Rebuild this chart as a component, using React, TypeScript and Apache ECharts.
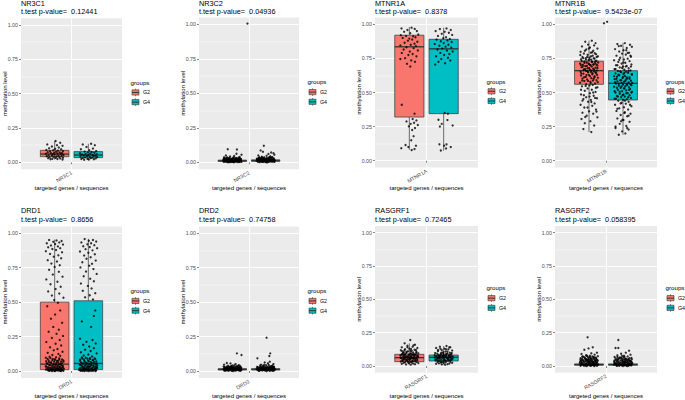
import React, { useEffect, useRef } from 'react';
import * as echarts from 'echarts';

// ---------- data ----------
const GENES = ['NR3C1', 'NR3C2', 'MTNR1A', 'MTNR1B', 'DRD1', 'DRD2', 'RASGRF1', 'RASGRF2'];
const P_VALUES = ['0.12441', '0.04936', '0.8378', '9.5423e-07', '0.8656', '0.74758', '0.72465', '0.058395'];
const GROUPS = ['G2', 'G4'];
const Y_TICKS = [0, 0.25, 0.5, 0.75, 1];

// box stats: [lower whisker, Q1, median, Q3, upper whisker]
const BOX_G2 = [
  [0.02, 0.041, 0.06, 0.087, 0.155],
  [0, 0.006, 0.011, 0.016, 0.03],
  [0.08, 0.32, 0.835, 0.92, 0.98],
  [0.21, 0.56, 0.66, 0.73, 0.88],
  [0, 0.01, 0.05, 0.5, 0.955],
  [0, 0.007, 0.012, 0.017, 0.035],
  [0.01, 0.0325, 0.0625, 0.0875, 0.17],
  [0, 0.006, 0.01, 0.016, 0.03],
];
const BOX_G4 = [
  [0.017, 0.034, 0.053, 0.078, 0.135],
  [0, 0.007, 0.012, 0.018, 0.034],
  [0.073, 0.345, 0.82, 0.89, 0.975],
  [0.19, 0.445, 0.567, 0.66, 0.865],
  [0, 0.01, 0.055, 0.51, 0.96],
  [0, 0.007, 0.012, 0.017, 0.035],
  [0.01, 0.0375, 0.065, 0.0825, 0.15],
  [0, 0.006, 0.01, 0.016, 0.03],
];

// jittered points: [jitter offset (-1..1), methylation level]
const NR3C1_G2 = [[0.1,0.155],[0.6,0.142],[-0.8,0.13],[0.25,0.125],[0.85,0.12],[-0.3,0.115],[0.45,0.108],[-0.6,0.102],[0.05,0.098],[0.7,0.095],[-0.9,0.09],[-0.15,0.088],[0.35,0.085],[0.9,0.082],[-0.5,0.08],[0.15,0.077],[-0.75,0.074],[0.55,0.072],[-0.05,0.07],[0.8,0.068],[-0.4,0.066],[0.3,0.064],[-0.95,0.062],[0.65,0.06],[-0.2,0.058],[0.0,0.056],[0.95,0.054],[-0.65,0.052],[0.4,0.05],[-0.3,0.048],[0.75,0.046],[-0.85,0.044],[0.2,0.042],[-0.1,0.04],[0.5,0.038],[-0.55,0.036],[0.9,0.034],[0.1,0.032],[-0.7,0.03],[0.6,0.028],[-0.25,0.026],[0.3,0.024],[-0.45,0.022],[0.85,0.02]];
const NR3C1_G4 = [[0.3,0.135],[-0.6,0.13],[0.7,0.125],[-0.2,0.112],[0.5,0.1],[-0.8,0.095],[0.1,0.088],[0.85,0.082],[-0.4,0.078],[0.35,0.075],[-0.05,0.072],[0.65,0.069],[-0.9,0.066],[0.2,0.063],[-0.3,0.06],[0.9,0.058],[-0.7,0.056],[0.45,0.054],[0.0,0.052],[-0.5,0.05],[0.75,0.048],[-0.15,0.046],[0.55,0.044],[-0.85,0.042],[0.15,0.04],[0.95,0.038],[-0.35,0.036],[0.4,0.034],[-0.6,0.032],[0.25,0.03],[0.8,0.028],[-0.1,0.026],[-0.75,0.024],[0.6,0.022],[0.05,0.02],[-0.45,0.018]];
const NR3C2_G2 = [[1.65,1.005],[-0.5,0.095],[0.5,0.093],[0.45,0.062],[1.0,0.055],[-0.7,0.05],[0.2,0.046],[-0.25,0.042],[0.8,0.039],[-0.9,0.036],[-0.93,0.028],[-0.81,0.011],[-0.68,0.021],[-0.62,0.004],[-0.47,0.017],[-0.41,0.027],[-0.33,0.009],[-0.18,0.021],[-0.12,0.003],[0.02,0.014],[0.09,0.025],[0.21,0.007],[0.28,0.019],[0.43,0.031],[0.52,0.011],[0.61,0.023],[0.73,0.002],[0.79,0.016],[0.88,0.026],[0.97,0.009],[-0.99,0.017],[-0.86,0.024],[-0.74,0.005],[-0.57,0.013],[-0.52,0.033],[-0.44,0.006],[-0.36,0.02],[-0.27,0.001],[-0.14,0.012],[-0.06,0.023],[0.04,0.006],[0.16,0.017],[0.24,0.029],[0.37,0.008],[0.47,0.022],[0.56,0.002],[0.66,0.013],[0.76,0.024],[0.84,0.007],[0.94,0.019],[-0.88,0.004],[-0.63,0.012],[-0.29,0.015],[0.01,0.004],[0.32,0.012],[0.63,0.017],[0.91,0.013],[-0.46,0.0],[0.19,0.001],[0.71,0.009]];
const NR3C2_G2_DENSE = [[-0.97,0.006],[-0.9,0.021],[-0.83,0.014],[-0.77,0.029],[-0.7,0.008],[-0.65,0.018],[-0.58,0.025],[-0.51,0.003],[-0.48,0.012],[-0.39,0.02],[-0.34,0.031],[-0.28,0.011],[-0.22,0.005],[-0.16,0.027],[-0.1,0.016],[-0.03,0.009],[0.0,0.022],[0.06,0.03],[0.11,0.012],[0.14,0.002],[0.2,0.024],[0.26,0.01],[0.3,0.016],[0.36,0.026],[0.4,0.004],[0.44,0.014],[0.5,0.028],[0.54,0.018],[0.59,0.007],[0.64,0.021],[0.7,0.012],[0.74,0.03],[0.8,0.004],[0.83,0.02],[0.89,0.011],[0.93,0.024],[0.99,0.003],[-0.6,0.034],[0.13,0.036],[0.68,0.033]];
const NR3C2_G4 = [[-0.2,0.12],[-0.55,0.086],[-0.3,0.076],[0.6,0.071],[0.85,0.066],[0.3,0.061],[0.95,0.055],[-0.8,0.05],[0.1,0.047],[0.5,0.043],[-0.42,0.04],[0.72,0.038],[-0.96,0.025],[-0.84,0.008],[-0.71,0.019],[-0.64,0.031],[-0.49,0.003],[-0.38,0.015],[-0.31,0.027],[-0.17,0.006],[-0.09,0.021],[0.03,0.011],[0.12,0.03],[0.23,0.002],[0.27,0.018],[0.41,0.026],[0.49,0.009],[0.58,0.02],[0.69,0.004],[0.77,0.015],[0.87,0.029],[0.98,0.012],[-0.91,0.016],[-0.77,0.027],[-0.59,0.01],[-0.53,0.022],[-0.43,0.034],[-0.26,0.012],[-0.13,0.017],[-0.02,0.003],[0.07,0.024],[0.18,0.013],[0.34,0.007],[0.39,0.021],[0.54,0.031],[0.64,0.014],[0.81,0.022],[0.92,0.005],[-0.68,0.001],[-0.21,0.025],[0.14,0.0],[0.46,0.016],[0.74,0.01],[-0.35,0.005],[0.29,0.033],[0.86,0.018]];
const NR3C2_G4_DENSE = [[-0.98,0.011],[-0.92,0.026],[-0.85,0.004],[-0.79,0.017],[-0.73,0.031],[-0.66,0.007],[-0.6,0.022],[-0.55,0.013],[-0.47,0.028],[-0.41,0.009],[-0.36,0.019],[-0.29,0.002],[-0.24,0.032],[-0.19,0.014],[-0.11,0.024],[-0.05,0.008],[0.02,0.018],[0.08,0.001],[0.13,0.027],[0.17,0.011],[0.25,0.02],[0.31,0.004],[0.36,0.03],[0.42,0.015],[0.47,0.006],[0.53,0.024],[0.57,0.012],[0.62,0.034],[0.67,0.019],[0.72,0.007],[0.79,0.026],[0.84,0.013],[0.9,0.022],[0.95,0.003],[0.97,0.017],[-0.15,0.036],[0.44,0.038],[-0.7,0.036]];
const MTNR1A_G2 = [[-0.83,0.97],[0.24,0.975],[0.57,0.966],[-0.2,0.958],[0.8,0.95],[-0.55,0.945],[0.1,0.935],[0.95,0.925],[-0.9,0.92],[-0.35,0.915],[0.4,0.912],[0.65,0.905],[-0.7,0.9],[0.0,0.895],[0.3,0.888],[-0.15,0.88],[0.85,0.872],[-0.5,0.865],[0.55,0.858],[0.15,0.85],[-0.95,0.845],[0.7,0.84],[-0.3,0.832],[0.45,0.825],[-0.6,0.815],[0.9,0.808],[0.05,0.8],[-0.8,0.79],[0.35,0.782],[-0.1,0.775],[0.75,0.765],[-0.45,0.752],[-0.95,0.745],[0.2,0.735],[0.6,0.725],[-0.25,0.71],[0.1,0.69],[-0.8,0.41],[0.55,0.345],[0.35,0.305],[0.75,0.295],[-0.3,0.288],[0.5,0.278],[0.15,0.27],[0.9,0.262],[-0.05,0.252],[0.6,0.24],[0.3,0.225],[0.45,0.18],[0.2,0.15],[-0.4,0.115],[0.7,0.11],[-0.1,0.1],[-0.85,0.092],[0.55,0.085],[0.25,0.078]];
const MTNR1A_G4 = [[0.3,0.97],[-0.4,0.965],[0.75,0.958],[-0.85,0.95],[0.1,0.945],[0.55,0.938],[-0.2,0.93],[0.9,0.922],[-0.6,0.915],[0.25,0.905],[-0.05,0.898],[0.65,0.892],[-0.75,0.888],[0.4,0.882],[-0.3,0.876],[0.85,0.87],[0.0,0.862],[-0.95,0.856],[0.5,0.85],[-0.45,0.843],[0.2,0.836],[0.8,0.83],[-0.15,0.822],[-0.65,0.815],[0.35,0.808],[0.95,0.8],[-0.35,0.79],[0.6,0.782],[0.05,0.775],[-0.8,0.765],[0.45,0.755],[-0.25,0.745],[0.7,0.735],[-0.55,0.725],[0.15,0.715],[-0.9,0.705],[0.1,0.35],[0.45,0.345],[-0.55,0.3],[0.4,0.298],[-0.2,0.27],[-0.4,0.25],[0.95,0.258],[-0.45,0.12],[0.3,0.12],[0.05,0.11],[0.75,0.1],[0.25,0.09],[-0.3,0.075]];
const MTNR1B_G2 = [[1.6,1.007],[0.3,0.88],[-0.4,0.872],[0.7,0.862],[-0.1,0.851],[0.55,0.845],[-0.75,0.838],[0.1,0.83],[0.9,0.822],[-0.3,0.815],[0.45,0.806],[-0.9,0.798],[0.2,0.792],[-0.55,0.786],[0.75,0.781],[-0.15,0.776],[0.4,0.77],[0.95,0.765],[-0.7,0.76],[0.05,0.756],[-0.35,0.752],[0.6,0.748],[-0.85,0.744],[0.25,0.74],[-0.05,0.736],[0.8,0.732],[-0.5,0.728],[0.35,0.724],[-0.25,0.72],[0.65,0.716],[-0.95,0.712],[0.0,0.709],[0.5,0.706],[-0.65,0.703],[0.15,0.701],[0.9,0.698],[-0.4,0.694],[0.3,0.69],[-0.8,0.686],[0.7,0.682],[-0.15,0.678],[0.45,0.674],[-0.55,0.67],[0.1,0.666],[0.85,0.662],[-0.3,0.658],[0.55,0.655],[-0.9,0.652],[0.2,0.651],[-0.1,0.647],[0.75,0.643],[-0.6,0.638],[0.35,0.634],[0.0,0.629],[-0.85,0.624],[0.6,0.619],[-0.35,0.614],[0.95,0.609],[0.25,0.605],[-0.7,0.602],[0.5,0.6],[-0.2,0.596],[0.8,0.59],[-0.5,0.584],[0.15,0.578],[-0.95,0.572],[0.65,0.566],[-0.3,0.561],[0.4,0.556],[0.05,0.552],[-0.75,0.545],[0.9,0.538],[-0.15,0.53],[0.3,0.52],[-0.45,0.512],[0.7,0.504],[0.1,0.495],[-0.85,0.486],[0.5,0.476],[-0.3,0.466],[0.85,0.458],[-0.6,0.452],[0.2,0.445],[-0.1,0.432],[0.6,0.42],[-0.9,0.41],[0.35,0.402],[-0.5,0.39],[0.75,0.375],[0.0,0.362],[-0.7,0.352],[0.45,0.345],[-0.25,0.33],[0.9,0.318],[-0.8,0.305],[0.15,0.29],[-0.45,0.275],[0.55,0.258],[-0.6,0.232],[0.25,0.21]];
const MTNR1B_G2_DENSE = [[-0.93,0.775],[-0.87,0.702],[-0.82,0.64],[-0.78,0.731],[-0.72,0.588],[-0.67,0.69],[-0.62,0.752],[-0.58,0.663],[-0.53,0.612],[-0.49,0.718],[-0.44,0.806],[-0.4,0.672],[-0.36,0.548],[-0.32,0.741],[-0.27,0.628],[-0.23,0.695],[-0.19,0.76],[-0.14,0.655],[-0.1,0.585],[-0.06,0.712],[-0.02,0.822],[0.02,0.679],[0.06,0.743],[0.1,0.62],[0.14,0.7],[0.18,0.568],[0.22,0.765],[0.26,0.66],[0.3,0.725],[0.34,0.795],[0.38,0.642],[0.42,0.588],[0.46,0.705],[0.5,0.752],[0.54,0.669],[0.58,0.612],[0.62,0.788],[0.66,0.729],[0.7,0.648],[0.74,0.535],[0.78,0.705],[0.82,0.76],[0.86,0.63],[0.9,0.68],[0.94,0.575],[0.98,0.72],[-0.55,0.48],[0.25,0.43],[-0.15,0.39],[0.65,0.46],[-0.85,0.52],[0.45,0.5],[0.05,0.47],[-0.4,0.32],[0.8,0.36],[-0.7,0.44]];
const MTNR1B_G4 = [[-1.7,1.018],[0.2,0.862],[-0.6,0.855],[0.75,0.85],[-0.2,0.842],[0.95,0.835],[0.4,0.826],[-0.85,0.818],[0.05,0.81],[-0.4,0.8],[0.65,0.792],[-0.1,0.785],[0.3,0.778],[-0.7,0.77],[0.85,0.762],[-0.3,0.755],[0.5,0.748],[0.1,0.742],[-0.95,0.736],[0.7,0.73],[-0.5,0.724],[0.25,0.718],[-0.15,0.712],[0.9,0.706],[-0.75,0.7],[0.4,0.695],[0.0,0.69],[-0.35,0.684],[0.6,0.678],[-0.9,0.672],[0.15,0.667],[0.8,0.662],[-0.55,0.658],[0.35,0.654],[-0.2,0.649],[0.55,0.645],[-0.8,0.64],[0.05,0.636],[0.95,0.631],[-0.4,0.626],[0.2,0.621],[-0.65,0.616],[0.7,0.611],[-0.05,0.606],[0.45,0.602],[-0.9,0.598],[0.3,0.594],[-0.3,0.59],[0.85,0.586],[-0.6,0.582],[0.1,0.578],[0.6,0.574],[-0.15,0.57],[-0.75,0.566],[0.4,0.562],[0.0,0.558],[0.9,0.554],[-0.45,0.55],[0.25,0.546],[-0.95,0.542],[0.65,0.538],[-0.25,0.534],[0.15,0.53],[0.75,0.525],[-0.55,0.52],[0.35,0.515],[-0.1,0.51],[0.95,0.505],[-0.8,0.5],[0.5,0.495],[-0.35,0.49],[0.05,0.485],[0.7,0.48],[-0.65,0.475],[0.2,0.47],[-0.2,0.465],[0.85,0.46],[-0.9,0.455],[0.4,0.45],[0.0,0.446],[-0.5,0.44],[0.6,0.432],[-0.15,0.425],[0.3,0.418],[-0.85,0.41],[0.9,0.4],[0.1,0.392],[-0.4,0.384],[0.55,0.375],[-0.7,0.365],[0.2,0.355],[0.8,0.345],[-0.25,0.335],[0.45,0.325],[-0.6,0.31],[0.05,0.298],[0.7,0.285],[-0.35,0.27],[0.35,0.255],[-0.8,0.24],[0.6,0.228],[-0.1,0.215],[0.25,0.2],[-0.45,0.19]];
const MTNR1B_G4_DENSE = [[-0.95,0.62],[-0.9,0.51],[-0.85,0.575],[-0.8,0.672],[-0.75,0.455],[-0.7,0.6],[-0.65,0.535],[-0.6,0.7],[-0.55,0.47],[-0.5,0.63],[-0.45,0.565],[-0.4,0.74],[-0.35,0.505],[-0.3,0.655],[-0.25,0.42],[-0.2,0.59],[-0.15,0.545],[-0.1,0.68],[-0.05,0.48],[0.0,0.615],[0.05,0.72],[0.1,0.53],[0.15,0.645],[0.2,0.44],[0.25,0.585],[0.3,0.69],[0.35,0.495],[0.4,0.61],[0.45,0.555],[0.5,0.79],[0.55,0.465],[0.6,0.66],[0.65,0.52],[0.7,0.6],[0.75,0.41],[0.8,0.56],[0.85,0.69],[0.9,0.5],[0.95,0.635],[0.98,0.57],[-0.6,0.38],[0.15,0.35],[-0.2,0.29],[0.6,0.33],[-0.8,0.25],[0.35,0.81],[-0.45,0.84],[0.8,0.77],[-0.05,0.3],[0.45,0.24]];
const DRD1_G2 = [[-0.6,0.952],[0.2,0.948],[0.75,0.944],[-0.15,0.938],[0.5,0.934],[-0.85,0.928],[0.05,0.922],[0.9,0.918],[-0.4,0.912],[0.35,0.905],[-0.7,0.898],[0.6,0.892],[-0.25,0.886],[0.15,0.878],[-0.95,0.87],[0.8,0.862],[-0.5,0.85],[0.4,0.84],[-0.1,0.83],[0.7,0.818],[-0.75,0.805],[0.25,0.795],[-0.35,0.78],[0.55,0.768],[0.0,0.755],[-0.6,0.735],[0.45,0.72],[-0.2,0.7],[0.85,0.685],[-0.9,0.665],[0.3,0.648],[-0.45,0.63],[0.65,0.612],[0.1,0.595],[-0.7,0.578],[0.5,0.562],[-0.3,0.548],[0.95,0.532],[-0.05,0.515],[0.35,0.495],[-0.8,0.47],[0.6,0.44],[0.05,0.41],[-0.4,0.38],[0.8,0.35],[-0.15,0.32],[0.45,0.3],[-0.65,0.285],[0.2,0.27],[0.9,0.255],[-0.3,0.24],[0.55,0.225],[-0.9,0.21],[0.1,0.198],[0.7,0.185],[-0.5,0.172],[0.3,0.16],[-0.1,0.15],[0.85,0.14],[-0.75,0.132],[0.4,0.124],[-0.25,0.116],[0.6,0.11],[-0.55,0.104],[0.15,0.1],[-0.95,0.096],[0.5,0.092],[-0.2,0.088],[0.8,0.084],[0.0,0.08],[-0.65,0.076],[0.35,0.072],[0.95,0.068],[-0.4,0.064],[0.2,0.06],[-0.85,0.057],[0.65,0.054],[-0.1,0.051],[0.45,0.048],[-0.6,0.045],[0.1,0.042],[0.75,0.039],[-0.3,0.036],[0.3,0.033],[-0.9,0.031],[0.55,0.029],[-0.15,0.027],[0.9,0.025],[-0.5,0.023],[0.05,0.021],[0.4,0.019],[-0.75,0.017],[0.7,0.015],[-0.25,0.013],[0.25,0.011],[-0.95,0.01],[0.6,0.009],[-0.4,0.008],[0.15,0.007],[0.85,0.006],[-0.7,0.005],[0.35,0.004],[-0.05,0.003],[0.5,0.002],[-0.55,0.001],[0.95,0.001],[0.0,0.0],[-0.3,0.0],[0.7,0.0]];
const DRD1_G2_DENSE = [[-0.97,0.034],[-0.92,0.071],[-0.87,0.012],[-0.81,0.052],[-0.76,0.088],[-0.71,0.027],[-0.66,0.004],[-0.61,0.063],[-0.56,0.018],[-0.51,0.041],[-0.46,0.094],[-0.41,0.009],[-0.36,0.056],[-0.31,0.022],[-0.26,0.078],[-0.21,0.003],[-0.16,0.045],[-0.11,0.015],[-0.06,0.067],[-0.01,0.032],[0.04,0.086],[0.09,0.011],[0.14,0.05],[0.19,0.024],[0.24,0.074],[0.29,0.006],[0.34,0.039],[0.39,0.061],[0.44,0.014],[0.49,0.082],[0.54,0.028],[0.59,0.047],[0.64,0.002],[0.69,0.069],[0.74,0.021],[0.79,0.055],[0.84,0.009],[0.89,0.036],[0.94,0.077],[0.99,0.016],[-0.5,0.005],[0.1,0.002],[0.6,0.012],[-0.2,0.01],[0.3,0.018]];
const DRD1_G4 = [[-0.4,0.958],[0.5,0.952],[0.05,0.946],[0.85,0.94],[-0.75,0.934],[0.3,0.928],[-0.1,0.92],[0.65,0.914],[-0.55,0.906],[0.15,0.9],[0.95,0.892],[-0.3,0.885],[0.45,0.876],[-0.9,0.868],[0.0,0.858],[0.7,0.848],[-0.45,0.838],[0.25,0.826],[-0.2,0.815],[0.8,0.802],[-0.65,0.79],[0.4,0.778],[0.1,0.765],[-0.85,0.752],[0.55,0.74],[-0.25,0.722],[0.9,0.705],[-0.5,0.688],[0.2,0.67],[0.6,0.652],[-0.8,0.635],[-0.05,0.618],[0.35,0.6],[-0.6,0.582],[0.75,0.565],[0.15,0.55],[-0.35,0.535],[0.5,0.52],[0.75,0.44],[0.6,0.4],[-0.7,0.36],[0.3,0.32],[-0.9,0.235],[0.45,0.225],[-0.2,0.212],[0.8,0.2],[-0.55,0.19],[0.1,0.178],[0.6,0.166],[-0.35,0.155],[0.25,0.145],[-0.8,0.136],[0.9,0.128],[0.0,0.12],[-0.5,0.112],[0.4,0.106],[-0.7,0.098],[0.2,0.094],[-0.1,0.09],[0.75,0.086],[-0.45,0.082],[0.5,0.078],[-0.9,0.074],[0.05,0.07],[0.65,0.066],[-0.3,0.062],[0.35,0.058],[-0.6,0.055],[0.9,0.052],[-0.15,0.049],[0.25,0.046],[-0.8,0.043],[0.55,0.04],[0.0,0.037],[-0.4,0.034],[0.8,0.031],[0.15,0.029],[-0.65,0.027],[0.45,0.025],[-0.2,0.023],[0.95,0.021],[-0.95,0.019],[0.3,0.017],[-0.5,0.015],[0.7,0.013],[-0.05,0.011],[0.4,0.01],[-0.75,0.009],[0.6,0.008],[-0.3,0.007],[0.1,0.006],[0.85,0.005],[-0.55,0.004],[0.2,0.003],[-0.15,0.002],[0.5,0.001],[-0.85,0.001],[0.75,0.0],[-0.4,0.0],[0.05,0.0]];
const DRD1_G4_DENSE = [[-0.99,0.008],[-0.93,0.046],[-0.88,0.083],[-0.83,0.021],[-0.78,0.062],[-0.73,0.003],[-0.68,0.037],[-0.63,0.09],[-0.58,0.014],[-0.53,0.053],[-0.48,0.026],[-0.43,0.072],[-0.38,0.006],[-0.33,0.043],[-0.28,0.097],[-0.23,0.017],[-0.18,0.059],[-0.13,0.031],[-0.08,0.004],[-0.03,0.076],[0.02,0.024],[0.07,0.051],[0.12,0.012],[0.17,0.088],[0.22,0.035],[0.27,0.065],[0.32,0.002],[0.37,0.044],[0.42,0.019],[0.47,0.08],[0.52,0.009],[0.57,0.057],[0.62,0.03],[0.67,0.092],[0.72,0.015],[0.77,0.048],[0.82,0.005],[0.87,0.069],[0.92,0.026],[0.97,0.04],[-0.6,0.002],[0.0,0.012],[0.45,0.006],[-0.35,0.016],[0.8,0.02]];
const DRD2_G2 = [[0.5,0.128],[1.0,0.116],[-0.6,0.058],[-0.2,0.055],[0.35,0.05],[-0.9,0.046],[0.7,0.043],[0.0,0.04],[-0.95,0.032],[-0.8,0.012],[-0.72,0.024],[-0.6,0.004],[-0.5,0.018],[-0.38,0.029],[-0.3,0.009],[-0.2,0.021],[-0.08,0.002],[0.03,0.015],[0.12,0.027],[0.2,0.006],[0.31,0.019],[0.42,0.033],[0.5,0.011],[0.62,0.023],[0.7,0.003],[0.81,0.016],[0.9,0.028],[0.98,0.008],[-0.88,0.02],[-0.66,0.015],[-0.45,0.007],[-0.25,0.03],[-0.02,0.01],[0.18,0.022],[0.38,0.004],[0.58,0.017],[0.77,0.025],[0.94,0.013],[-0.55,0.026],[-0.12,0.018],[0.26,0.013],[0.66,0.008],[-0.78,0.002],[0.08,0.0],[0.46,0.025],[0.86,0.001],[-0.35,0.014],[0.55,0.036]];
const DRD2_G2_DENSE = [[-0.96,0.013],[-0.89,0.003],[-0.84,0.027],[-0.76,0.018],[-0.69,0.009],[-0.63,0.031],[-0.57,0.012],[-0.52,0.022],[-0.42,0.002],[-0.37,0.016],[-0.32,0.026],[-0.27,0.006],[-0.17,0.013],[-0.14,0.033],[-0.05,0.024],[0.0,0.005],[0.06,0.019],[0.1,0.011],[0.16,0.03],[0.23,0.015],[0.28,0.003],[0.34,0.024],[0.4,0.013],[0.45,0.006],[0.52,0.02],[0.56,0.029],[0.61,0.01],[0.68,0.018],[0.73,0.032],[0.78,0.007],[0.84,0.022],[0.88,0.014],[0.93,0.004],[0.97,0.024],[-0.47,0.038],[0.22,0.041],[-0.08,0.036],[0.85,0.037]];
const DRD2_G4 = [[0.1,0.242],[0.5,0.128],[0.4,0.109],[-0.9,0.092],[0.45,0.068],[-0.1,0.062],[0.25,0.056],[0.85,0.05],[-0.5,0.046],[0.05,0.042],[-0.3,0.039],[-0.92,0.03],[-0.83,0.01],[-0.7,0.022],[-0.62,0.005],[-0.48,0.017],[-0.4,0.028],[-0.28,0.008],[-0.18,0.02],[-0.06,0.003],[0.05,0.014],[0.14,0.026],[0.22,0.006],[0.33,0.018],[0.44,0.031],[0.52,0.012],[0.64,0.024],[0.72,0.002],[0.83,0.015],[0.92,0.027],[0.99,0.009],[-0.86,0.021],[-0.64,0.014],[-0.43,0.006],[-0.23,0.029],[0.0,0.011],[0.2,0.021],[0.4,0.003],[0.6,0.016],[0.79,0.026],[0.95,0.012],[-0.53,0.025],[-0.1,0.017],[0.28,0.012],[0.68,0.007],[-0.76,0.001],[0.1,0.0],[0.48,0.024],[0.88,0.002],[-0.33,0.015],[0.57,0.035]];
const DRD2_G4_DENSE = [[-0.99,0.019],[-0.9,0.008],[-0.86,0.028],[-0.78,0.013],[-0.72,0.002],[-0.66,0.022],[-0.59,0.031],[-0.54,0.009],[-0.45,0.017],[-0.39,0.025],[-0.34,0.004],[-0.26,0.014],[-0.2,0.033],[-0.13,0.007],[-0.07,0.021],[0.02,0.028],[0.08,0.013],[0.12,0.004],[0.18,0.018],[0.24,0.03],[0.3,0.009],[0.37,0.022],[0.42,0.015],[0.47,0.002],[0.55,0.026],[0.59,0.011],[0.66,0.019],[0.7,0.034],[0.76,0.006],[0.81,0.023],[0.86,0.01],[0.9,0.031],[0.96,0.016],[-0.6,0.04],[0.34,0.044],[0.74,0.04],[-0.15,0.045]];
const RASGRF1_G2 = [[0.1,0.195],[-0.5,0.17],[0.6,0.16],[-0.2,0.152],[0.35,0.145],[-0.8,0.14],[0.85,0.135],[0.0,0.13],[-0.45,0.126],[0.55,0.122],[-0.9,0.118],[0.25,0.114],[-0.15,0.11],[0.75,0.107],[-0.6,0.104],[0.4,0.101],[-0.3,0.098],[0.95,0.095],[0.1,0.092],[-0.75,0.09],[0.6,0.088],[-0.05,0.086],[0.3,0.084],[-0.5,0.082],[0.8,0.08],[-0.95,0.078],[0.15,0.076],[-0.25,0.074],[0.5,0.072],[-0.65,0.07],[0.9,0.068],[0.05,0.066],[-0.4,0.064],[0.7,0.062],[-0.85,0.06],[0.2,0.058],[-0.1,0.056],[0.45,0.054],[-0.55,0.052],[0.65,0.05],[-0.3,0.048],[0.0,0.046],[0.85,0.044],[-0.7,0.042],[0.35,0.04],[-0.2,0.038],[0.55,0.036],[-0.9,0.034],[0.1,0.032],[0.75,0.03],[-0.45,0.028],[0.25,0.026],[-0.6,0.024],[0.95,0.022],[-0.05,0.02],[0.4,0.018],[-0.8,0.016],[0.6,0.014],[-0.35,0.012],[0.15,0.01],[-0.15,0.07],[0.3,0.06],[-0.45,0.09],[0.5,0.085],[-0.7,0.05],[0.8,0.065],[0.05,0.055],[-0.25,0.045],[0.2,0.095],[-0.6,0.08]];
const RASGRF1_G2_DENSE = [[-0.92,0.062],[-0.83,0.085],[-0.74,0.038],[-0.66,0.097],[-0.57,0.058],[-0.48,0.073],[-0.39,0.043],[-0.31,0.106],[-0.22,0.066],[-0.13,0.028],[-0.04,0.081],[0.05,0.049],[0.13,0.112],[0.22,0.069],[0.31,0.035],[0.4,0.088],[0.48,0.058],[0.57,0.079],[0.66,0.041],[0.74,0.099],[0.83,0.054],[0.92,0.075],[-0.52,0.118],[0.18,0.128],[0.7,0.12],[-0.2,0.14],[0.45,0.155],[-0.75,0.11]];
const RASGRF1_G4 = [[0.3,0.15],[-0.4,0.145],[0.7,0.14],[-0.8,0.135],[0.1,0.13],[0.5,0.125],[-0.2,0.12],[0.9,0.116],[-0.6,0.112],[0.2,0.108],[-0.05,0.104],[0.65,0.1],[-0.9,0.097],[0.4,0.094],[-0.3,0.091],[0.8,0.088],[0.0,0.085],[-0.55,0.082],[0.55,0.08],[-0.15,0.078],[0.25,0.076],[-0.75,0.074],[0.95,0.072],[-0.35,0.07],[0.15,0.068],[0.6,0.066],[-0.95,0.064],[-0.1,0.062],[0.35,0.06],[0.75,0.058],[-0.5,0.056],[0.05,0.054],[-0.7,0.052],[0.45,0.05],[-0.25,0.048],[0.85,0.046],[0.1,0.044],[-0.85,0.042],[0.5,0.04],[-0.4,0.038],[0.3,0.036],[-0.1,0.034],[0.7,0.032],[-0.65,0.03],[0.2,0.028],[-0.3,0.026],[0.9,0.024],[0.0,0.022],[-0.5,0.02],[0.6,0.018],[-0.8,0.016],[0.4,0.014],[-0.2,0.012],[0.15,0.01],[-0.45,0.075],[0.5,0.065],[-0.05,0.07],[0.7,0.085],[-0.6,0.06],[0.3,0.09],[-0.25,0.1],[0.05,0.045]];
const RASGRF1_G4_DENSE = [[-0.95,0.081],[-0.86,0.047],[-0.77,0.069],[-0.68,0.092],[-0.59,0.038],[-0.5,0.072],[-0.41,0.058],[-0.32,0.083],[-0.23,0.029],[-0.14,0.066],[-0.05,0.095],[0.04,0.075],[0.13,0.041],[0.22,0.087],[0.31,0.063],[0.4,0.108],[0.49,0.052],[0.58,0.079],[0.67,0.044],[0.76,0.071],[0.85,0.097],[0.94,0.055],[-0.6,0.12],[0.25,0.125],[-0.35,0.13],[0.6,0.14]];
const RASGRF2_G2 = [[-0.15,0.215],[0.4,0.14],[-0.05,0.132],[-0.5,0.122],[0.85,0.1],[0.25,0.095],[-0.8,0.09],[0.6,0.085],[-0.3,0.08],[0.1,0.077],[0.95,0.074],[-0.65,0.071],[0.45,0.068],[-0.1,0.065],[0.75,0.062],[-0.9,0.059],[0.2,0.056],[-0.4,0.053],[0.55,0.05],[0.0,0.048],[-0.7,0.046],[0.9,0.044],[0.3,0.042],[-0.25,0.04],[0.65,0.038],[-0.55,0.036],[0.15,0.034],[-0.95,0.032],[0.8,0.03],[-0.15,0.028],[0.4,0.026],[-0.75,0.024],[0.05,0.022],[0.7,0.02],[-0.35,0.018],[0.5,0.016],[-0.85,0.014],[0.25,0.012],[-0.05,0.01],[0.95,0.009],[-0.6,0.008],[0.35,0.007],[-0.2,0.006],[0.6,0.005],[-0.45,0.004],[0.1,0.003],[0.85,0.002],[-0.9,0.002],[0.2,0.001],[-0.3,0.0],[0.55,0.0],[-0.7,0.015],[0.45,0.025],[-0.1,0.045],[0.75,0.055],[-0.5,0.065],[0.15,0.06],[-0.85,0.04],[0.3,0.035],[0.0,0.03],[-0.35,0.05],[0.65,0.015],[-0.2,0.075]];
const RASGRF2_G2_DENSE = [[-0.98,0.022],[-0.92,0.047],[-0.88,0.008],[-0.8,0.033],[-0.74,0.055],[-0.68,0.018],[-0.62,0.041],[-0.57,0.004],[-0.52,0.028],[-0.46,0.062],[-0.41,0.013],[-0.36,0.037],[-0.31,0.052],[-0.26,0.02],[-0.21,0.044],[-0.16,0.003],[-0.11,0.031],[-0.06,0.057],[-0.02,0.016],[0.03,0.039],[0.08,0.068],[0.12,0.011],[0.18,0.046],[0.22,0.025],[0.27,0.006],[0.33,0.053],[0.37,0.019],[0.42,0.034],[0.48,0.009],[0.52,0.059],[0.58,0.027],[0.63,0.043],[0.67,0.005],[0.72,0.036],[0.78,0.014],[0.82,0.049],[0.87,0.024],[0.92,0.039],[0.97,0.012],[-0.72,0.07],[0.35,0.072],[-0.28,0.078],[0.6,0.065]];
const RASGRF2_G4 = [[-0.5,0.195],[-0.8,0.135],[-0.5,0.135],[0.65,0.115],[0.3,0.1],[-0.2,0.092],[0.8,0.085],[-0.6,0.08],[0.1,0.076],[0.5,0.072],[-0.9,0.068],[-0.3,0.064],[0.9,0.06],[0.2,0.057],[-0.45,0.054],[0.6,0.051],[0.0,0.048],[-0.75,0.045],[0.4,0.042],[-0.15,0.04],[0.75,0.038],[-0.55,0.036],[0.25,0.034],[-0.95,0.032],[0.85,0.03],[-0.05,0.028],[0.45,0.026],[-0.65,0.024],[0.15,0.022],[-0.35,0.02],[0.95,0.018],[0.55,0.016],[-0.8,0.014],[0.05,0.012],[-0.25,0.01],[0.7,0.009],[0.35,0.008],[-0.5,0.007],[-0.1,0.006],[0.9,0.005],[0.2,0.004],[-0.7,0.003],[0.6,0.002],[-0.4,0.001],[0.0,0.0],[0.45,0.0],[-0.9,0.02],[0.3,0.05],[-0.2,0.06],[0.65,0.04],[-0.6,0.05],[0.1,0.03],[0.8,0.015]];
const RASGRF2_G4_DENSE = [[-0.96,0.009],[-0.91,0.041],[-0.86,0.024],[-0.79,0.056],[-0.73,0.013],[-0.67,0.035],[-0.63,0.002],[-0.56,0.047],[-0.51,0.018],[-0.44,0.03],[-0.39,0.061],[-0.33,0.011],[-0.28,0.042],[-0.23,0.025],[-0.17,0.005],[-0.12,0.052],[-0.07,0.019],[-0.02,0.037],[0.04,0.063],[0.09,0.008],[0.14,0.031],[0.19,0.045],[0.24,0.014],[0.29,0.027],[0.34,0.055],[0.39,0.003],[0.44,0.038],[0.49,0.021],[0.54,0.049],[0.59,0.01],[0.64,0.029],[0.69,0.058],[0.74,0.017],[0.79,0.04],[0.84,0.006],[0.89,0.033],[0.94,0.05],[0.99,0.023],[-0.6,0.068],[0.15,0.07],[-0.1,0.075]];

const POINTS = [
  [NR3C1_G2, NR3C1_G4],
  [NR3C2_G2.concat(NR3C2_G2_DENSE), NR3C2_G4.concat(NR3C2_G4_DENSE)],
  [MTNR1A_G2, MTNR1A_G4],
  [MTNR1B_G2.concat(MTNR1B_G2_DENSE), MTNR1B_G4.concat(MTNR1B_G4_DENSE)],
  [DRD1_G2.concat(DRD1_G2_DENSE), DRD1_G4.concat(DRD1_G4_DENSE)],
  [DRD2_G2.concat(DRD2_G2_DENSE), DRD2_G4.concat(DRD2_G4_DENSE)],
  [RASGRF1_G2.concat(RASGRF1_G2_DENSE), RASGRF1_G4.concat(RASGRF1_G4_DENSE)],
  [RASGRF2_G2.concat(RASGRF2_G2_DENSE), RASGRF2_G4.concat(RASGRF2_G4_DENSE)],
];

// ---------- layout & style ----------
const W = 685, H = 400;
const FONT = '"Liberation Sans", Arial, Helvetica, sans-serif';
const COLORS = ['#F8766D', '#00BFC4'];
const CENTERS = [0.4, 0.8];
const BOX_HALF = 0.17;
const JIT = 0.11;
const COL_LEFT = [21, 199, 375, 555];
const COL_RIGHT = [122, 299, 478, 657];
const Y_ONE = [[25, 24.3, 24.3, 24.3], [233.3, 233.3, 232.7, 232.7]];
const Y_ZERO = [[162.3, 162.3, 160.7, 160.7], [371, 371, 366, 366]];
const TITLE_Y = [[3.8, 11.6], [210.6, 219.1]];
const XTITLE_Y = [188.3, 395.5];

function buildOption() {
  const grid: any[] = [], xAxis: any[] = [], yAxis: any[] = [], series: any[] = [], graphic: any[] = [];
  const txt = (text: string, x: number, y: number, fontSize: number) => ({
    type: 'text', x, y, silent: true,
    style: { text, fontSize, fontFamily: FONT, fontWeight: 'normal', fill: '#000000', align: 'left', verticalAlign: 'middle', textAlign: 'left', textVerticalAlign: 'middle' },
  });
  GENES.forEach((gene, p) => {
    const r = Math.floor(p / 4), c = p % 4;
    const left = COL_LEFT[c], right = COL_RIGHT[c], width = right - left;
    const y1 = Y_ONE[r][c], y0 = Y_ZERO[r][c], unit = y0 - y1;
    const top = y1 - 0.05 * unit, height = 1.1 * unit, bottom = top + height;
    const gA = 2 * p, gB = 2 * p + 1;
    grid.push({ left, top, width, height, show: true, backgroundColor: '#EBEBEB', borderWidth: 0, outerBoundsMode: 'none' });
    grid.push({ left, top: y1, width, height: unit, show: false, outerBoundsMode: 'none' });
    const onlyCenter = (i: number) => i === 1;
    xAxis.push({
      type: 'category', gridIndex: gA, data: ['', gene, ''], boundaryGap: false,
      axisLine: { show: false },
      axisTick: { show: true, interval: onlyCenter, length: 2, lineStyle: { color: '#333333', width: 0.6 } },
      axisLabel: { interval: onlyCenter, rotate: 30, fontSize: 5.3, color: '#4D4D4D', fontFamily: FONT, margin: 3 },
      splitLine: { show: true, interval: onlyCenter, lineStyle: { color: '#FFFFFF', width: 0.9 } },
      name: 'targeted genes / sequences', nameLocation: 'middle', nameGap: XTITLE_Y[r] - bottom - 3,
      nameMoveOverlap: false,
      nameTextStyle: { fontSize: 6, color: '#000000', fontFamily: FONT },
    });
    xAxis.push({ type: 'value', gridIndex: gA, min: 0, max: 1.2, show: false });
    xAxis.push({ type: 'value', gridIndex: gB, min: 0, max: 1, show: false });
    yAxis.push({ type: 'value', gridIndex: gA, min: -0.05, max: 1.05, show: false });
    yAxis.push({
      type: 'value', gridIndex: gB, min: Y_TICKS[0], max: Y_TICKS[Y_TICKS.length - 1], interval: 0.25,
      axisLine: { show: false },
      axisTick: { show: true, length: 2, lineStyle: { color: '#333333', width: 0.6 } },
      axisLabel: { fontSize: 5.3, color: '#4D4D4D', fontFamily: FONT, margin: 3, formatter: (v: number) => v.toFixed(2) },
      splitLine: { show: true, lineStyle: { color: '#FFFFFF', width: 0.9 } },
      minorTick: { show: false, splitNumber: 2 },
      minorSplitLine: { show: true, lineStyle: { color: '#FFFFFF', width: 0.45 } },
      name: 'methylation level', nameLocation: 'middle', nameRotate: 90, nameGap: 13.5,
      nameMoveOverlap: false,
      nameTextStyle: { fontSize: 6, color: '#000000', fontFamily: FONT },
    });

    const boxes = [BOX_G2[p], BOX_G4[p]];
    series.push({
      type: 'custom', xAxisIndex: 3 * p + 1, yAxisIndex: 2 * p, z: 2, silent: true,
      encode: { x: 0, y: [1, 2, 3, 4, 5] },
      data: boxes.map((b, g) => [CENTERS[g], ...b, g]),
      renderItem: (params: any, api: any) => {
        const cx = api.value(0);
        const lo = api.coord([cx, api.value(1)]);
        const q1 = api.coord([cx, api.value(2)]);
        const md = api.coord([cx, api.value(3)]);
        const q3 = api.coord([cx, api.value(4)]);
        const hi = api.coord([cx, api.value(5)]);
        const hw = api.size([BOX_HALF, 0])[0];
        const col = COLORS[api.value(6)];
        const stroke = { stroke: '#333333', lineWidth: 0.7 };
        return {
          type: 'group',
          children: [
            { type: 'line', shape: { x1: lo[0], y1: lo[1], x2: q1[0], y2: q1[1] }, style: stroke },
            { type: 'line', shape: { x1: q3[0], y1: q3[1], x2: hi[0], y2: hi[1] }, style: stroke },
            { type: 'rect', shape: { x: q1[0] - hw, y: q3[1], width: 2 * hw, height: Math.max(q1[1] - q3[1], 0.1) }, style: { fill: col, ...stroke } },
            { type: 'line', shape: { x1: md[0] - hw, y1: md[1], x2: md[0] + hw, y2: md[1] }, style: { stroke: '#333333', lineWidth: 1.3 } },
          ],
        };
      },
    });
    POINTS[p].forEach((pts, g) => {
      series.push({
        type: 'scatter', name: GROUPS[g], xAxisIndex: 3 * p + 1, yAxisIndex: 2 * p, z: 3, silent: true,
        symbol: 'circle', symbolSize: 2.3, itemStyle: { color: '#000000' },
        data: pts.map(([dx, y]) => [CENTERS[g] + dx * JIT, y]),
      });
    });

    // titles
    graphic.push(txt(gene, left, TITLE_Y[r][0], 7.3));
    graphic.push(txt('t.test p-value=  ' + P_VALUES[p], left, TITLE_Y[r][1], 7.3));
    // legend
    const cy = (y1 + y0) / 2;
    const lx = right + 8.5;
    graphic.push(txt('groups', lx, cy - 11.5, 6.2));
    GROUPS.forEach((gname, g) => {
      const ky = cy - 1.2 + g * 9.7;
      const kx = lx + 1;
      graphic.push({
        type: 'group', silent: true, children: [
          { type: 'line', shape: { x1: kx + 4, y1: ky - 3.8, x2: kx + 4, y2: ky + 3.8 }, style: { stroke: '#333333', lineWidth: 0.6 } },
          { type: 'rect', shape: { x: kx + 0.5, y: ky - 2.6, width: 7, height: 5.2 }, style: { fill: COLORS[g], stroke: '#333333', lineWidth: 0.6 } },
          { type: 'line', shape: { x1: kx + 0.5, y1: ky, x2: kx + 7.5, y2: ky }, style: { stroke: '#333333', lineWidth: 1 } },
        ],
      });
      graphic.push(txt(gname, kx + 11.5, ky, 5.3));
    });
  });
  return {
    animation: false,
    backgroundColor: '#FFFFFF',
    textStyle: { fontFamily: FONT },
    grid, xAxis, yAxis, series, graphic,
  };
}

export default function App() {
  const ref = useRef<HTMLDivElement>(null);
  useEffect(() => {
    document.body.style.margin = '0';
    if (!ref.current) return;
    const chart = echarts.init(ref.current, null, { renderer: 'svg', width: W, height: H });
    chart.setOption(buildOption() as any);
    return () => chart.dispose();
  }, []);
  return <div ref={ref} style={{ width: W, height: H }} />;
}
